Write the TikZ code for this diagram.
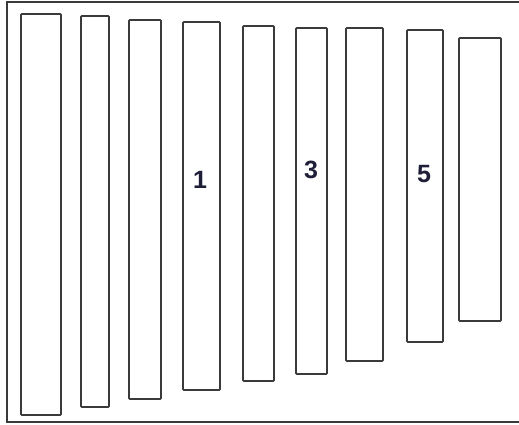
\documentclass[tikz,border=0pt]{standalone}
\usepackage{fontspec}
\setmainfont{Liberation Sans}
\usepackage{xcolor}
\usepackage{tikz}
\definecolor{BarLine}{HTML}{3A3A3A}
\definecolor{BarText}{HTML}{1E1E38}
\tikzset{
  bar/.style={draw=BarLine,line width=1.8pt,rounded corners=0.8pt},
  barnum/.style={font=\fontsize{25}{28}\selectfont\bfseries,text=BarText,inner sep=0pt}
}

\begin{document}
\begin{tikzpicture}[x=1pt,y=-1pt]
    \useasboundingbox (0,0) rectangle (519,424);
    % Frame
    \draw[BarLine,line width=2pt] (7,2) rectangle (520,422);
    % Bars, left to right
    \draw[bar] (21,14)  rectangle (61,415);
    \draw[bar] (81,16)  rectangle (109,407);
    \draw[bar] (129,20) rectangle (161,399);
    \draw[bar] (183,22) rectangle (220,390);
    \draw[bar] (243,26) rectangle (274,381);
    \draw[bar] (296,28) rectangle (327,374);
    \draw[bar] (346,28) rectangle (383,361);
    \draw[bar] (407,30) rectangle (443,342);
    \draw[bar] (459,38) rectangle (501,321);
    % Numbers
    \node[barnum] (num1) at (200,180) {1};
    \node[barnum] (num3) at (311,170) {3};
    \node[barnum] (num5) at (424,174) {5};
\end{tikzpicture}
\end{document}
